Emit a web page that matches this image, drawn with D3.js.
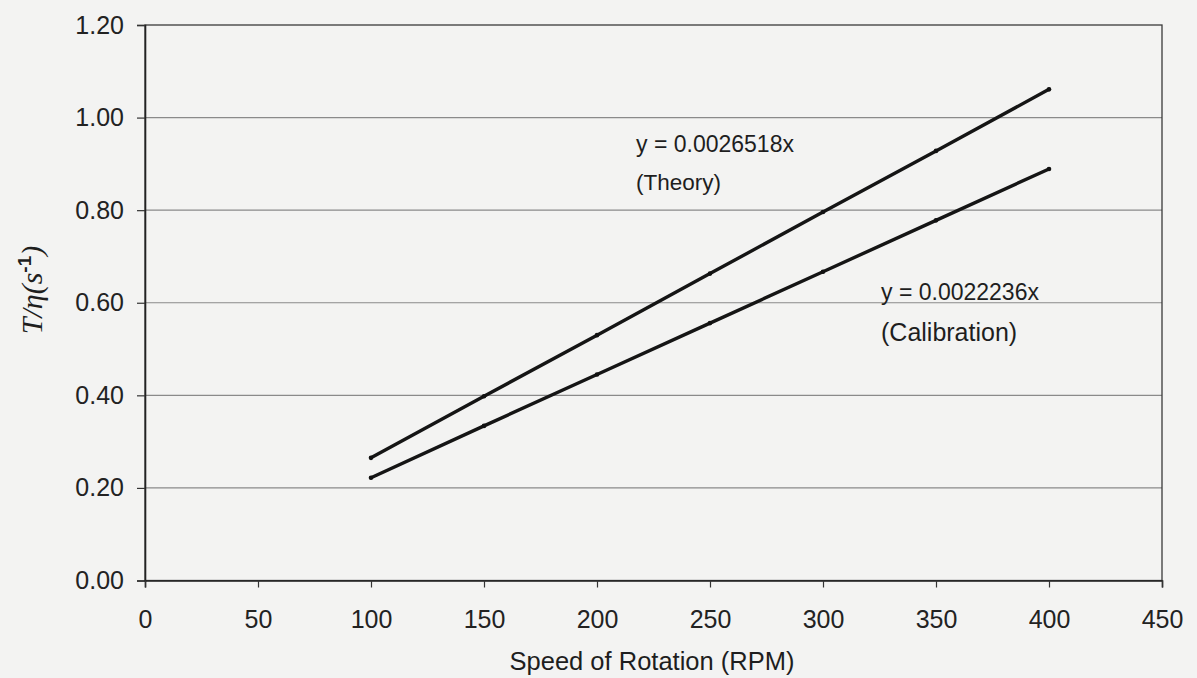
<!DOCTYPE html>
<html>
<head>
<meta charset="utf-8">
<script src="https://cdn.jsdelivr.net/npm/d3@7"></script>
<style>
  html, body { margin: 0; padding: 0; background: #f3f3f2; }
  svg { display: block; font-family: "Liberation Sans", Arial, sans-serif; }
</style>
</head>
<body>
<svg id="chart" width="1197" height="678"></svg>
<script>
// Rotational speed (RPM) at which torque/viscosity was evaluated
const speeds = [100, 150, 200, 250, 300, 350, 400];
// T/η values (s^-1) for each series
const theoryValues = [0.265, 0.398, 0.530, 0.663, 0.796, 0.928, 1.061];
const calibrationValues = [0.222, 0.334, 0.445, 0.556, 0.667, 0.778, 0.889];
// Axis ticks
const xTicks = [0, 50, 100, 150, 200, 250, 300, 350, 400, 450];
const yTicks = [0, 0.2, 0.4, 0.6, 0.8, 1.0, 1.2];
// Trendline annotations
const theoryEquation = "y = 0.0026518x";
const calibrationEquation = "y = 0.0022236x";

const svg = d3.select("#chart");
const m = { left: 145, right: 1162, top: 25, bottom: 580.5 };

const x = d3.scaleLinear().domain([0, 450]).range([m.left, m.right]);
const y = d3.scaleLinear().domain([0, 1.2]).range([m.bottom, m.top]);

// horizontal gridlines
svg.append("g")
  .selectAll("line")
  .data(yTicks.filter(d => d > 0 && d < 1.2))
  .join("line")
  .attr("x1", m.left).attr("x2", m.right)
  .attr("y1", d => y(d)).attr("y2", d => y(d))
  .attr("stroke", "#8a8a8a").attr("stroke-width", 1.2);

// plot frame
svg.append("rect")
  .attr("x", m.left).attr("y", m.top)
  .attr("width", m.right - m.left).attr("height", m.bottom - m.top)
  .attr("fill", "none").attr("stroke", "#3a3a3a").attr("stroke-width", 1.3);

// y axis
const yAxis = svg.append("g")
  .attr("transform", `translate(${m.left},0)`)
  .call(d3.axisLeft(y).tickValues(yTicks).tickFormat(d3.format(".2f")).tickSize(8).tickPadding(13));
yAxis.select(".domain").attr("stroke", "#222").attr("stroke-width", 1.6);
yAxis.selectAll(".tick line").attr("stroke", "#333").attr("stroke-width", 1.2);
yAxis.selectAll("text").attr("font-size", 25).attr("fill", "#222")
  .attr("font-family", "Liberation Sans, Arial, sans-serif");

// x axis
const xAxis = svg.append("g")
  .attr("transform", `translate(0,${m.bottom})`)
  .call(d3.axisBottom(x).tickValues(xTicks).tickSize(7).tickPadding(23));
xAxis.select(".domain").attr("stroke", "#222").attr("stroke-width", 1.6);
xAxis.selectAll(".tick line").attr("stroke", "#333").attr("stroke-width", 1.2);
xAxis.selectAll("text").attr("font-size", 25).attr("fill", "#222")
  .attr("font-family", "Liberation Sans, Arial, sans-serif");

// series lines
const line = d3.line().x(d => x(d[0])).y(d => y(d[1]));
[theoryValues, calibrationValues].forEach(vals => {
  const pts = speeds.map((s, i) => [s, vals[i]]);
  svg.append("path")
    .datum(pts)
    .attr("d", line)
    .attr("fill", "none")
    .attr("stroke", "#151515")
    .attr("stroke-width", 3.4)
    .attr("stroke-linecap", "round");
  svg.append("g").selectAll("circle")
    .data(pts).join("circle")
    .attr("cx", d => x(d[0])).attr("cy", d => y(d[1]))
    .attr("r", 2.3).attr("fill", "#111");
});

// equation annotations
function note(px, py, eq, name, gap, nameSize) {
  svg.append("text").attr("x", px).attr("y", py)
    .attr("font-size", 23).attr("fill", "#1e1e1e").text(eq);
  svg.append("text").attr("x", px).attr("y", py + gap)
    .attr("font-size", nameSize).attr("fill", "#1e1e1e").text(name);
}
note(636, 152, theoryEquation, "(Theory)", 38, 22.5);
note(881, 300, calibrationEquation, "(Calibration)", 41, 25);

// axis titles
svg.append("text")
  .attr("x", 652).attr("y", 670)
  .attr("text-anchor", "middle").attr("font-size", 25.5).attr("fill", "#1e1e1e")
  .text("Speed of Rotation (RPM)");

const yt = svg.append("text")
  .attr("transform", "translate(42,290) rotate(-90)")
  .attr("text-anchor", "middle")
  .attr("font-family", "Liberation Serif, 'Times New Roman', serif")
  .attr("font-style", "italic").attr("font-size", 30).attr("fill", "#1e1e1e");
yt.append("tspan").text("T/η(s");
yt.append("tspan").attr("dy", -11).attr("font-size", 19).attr("font-style", "normal")
  .attr("font-family", "Liberation Sans, Arial, sans-serif").attr("font-weight", "bold").text("-1");
yt.append("tspan").attr("dy", 11).text(")");
</script>
</body>
</html>
